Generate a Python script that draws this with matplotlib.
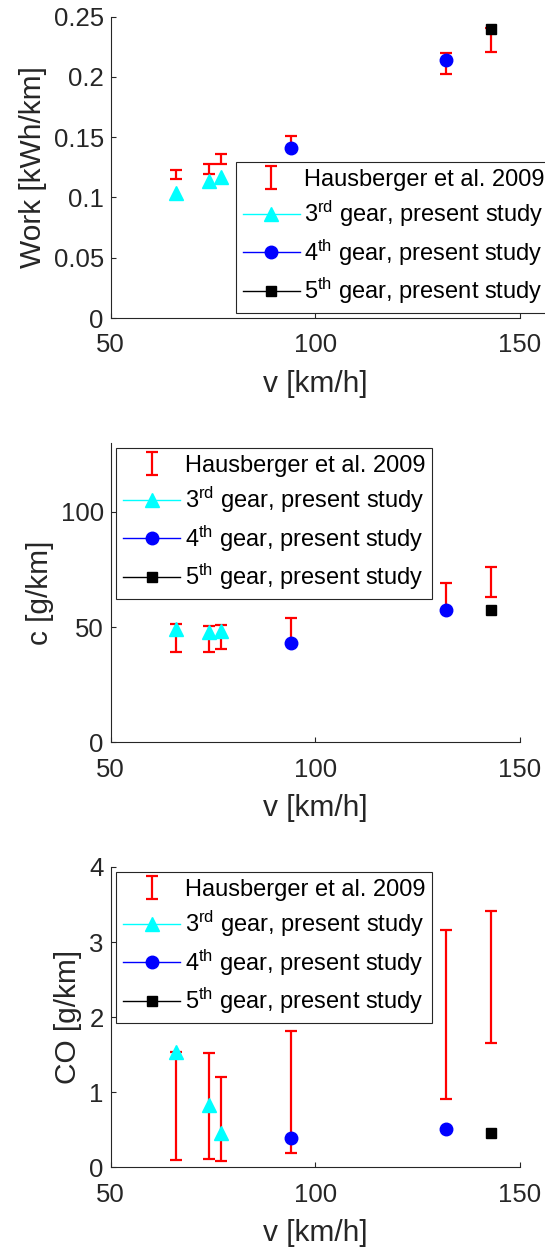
import matplotlib
matplotlib.use('Agg')
import matplotlib.pyplot as plt
from matplotlib.lines import Line2D
from matplotlib.container import ErrorbarContainer
from matplotlib.legend_handler import HandlerErrorbar
import numpy as np

plt.rcParams['font.family'] = ['Liberation Sans', 'DejaVu Sans']
plt.rcParams['mathtext.fontset'] = 'custom'
plt.rcParams['mathtext.rm'] = 'Liberation Sans'
plt.rcParams['mathtext.it'] = 'Liberation Sans:italic'

# speeds [km/h]
v_all = [66, 74, 77, 94, 132, 143]
v_g3 = [66, 74, 77]
v_g4 = [94, 132]
v_g5 = [143]

# Hausberger et al. 2009 ranges (low / high)
work_lo = [0.1154, 0.1193, 0.1276, 0.141, 0.2021, 0.2209]
work_hi = [0.1232, 0.1276, 0.1359, 0.1514, 0.2195, 0.2409]
c_lo = [39.3, 39.3, 40.7, 43.0, 57.2, 63.0]
c_hi = [51.4, 50.6, 51.0, 53.8, 69.0, 76.1]
co_lo = [0.098, 0.111, 0.089, 0.195, 0.915, 1.652]
co_hi = [1.53, 1.518, 1.203, 1.811, 3.157, 3.419]

# present study
work_g3 = [0.1038, 0.1135, 0.117]
work_g4 = [0.141, 0.2137]
work_g5 = [0.2395]
c_g3 = [49.1, 47.8, 48.1]
c_g4 = [42.9, 57.2]
c_g5 = [57.4]
co_g3 = [1.532, 0.830, 0.453]
co_g4 = [0.395, 0.515]
co_g5 = [0.462]

labels = ['Hausberger et al. 2009',
          '3$^{\\rm rd}$ gear, present study',
          '4$^{\\rm th}$ gear, present study',
          '5$^{\\rm th}$ gear, present study']

W, H = 545, 1247
fig = plt.figure(figsize=(W / 100, H / 100), dpi=100)
TXT = '#262626'


def add_ax(left, top, right, bottom):
    return fig.add_axes([left / W, 1 - bottom / H, (right - left) / W, (bottom - top) / H])


def panel(ax, lo, hi, g3, g4, g5, ylim, yticks, yticklabels, ylabel, leg_xy):
    lo = np.array(lo)
    hi = np.array(hi)
    mid = (lo + hi) / 2
    err = (hi - lo) / 2
    eb = ax.errorbar(v_all, mid, yerr=err, fmt='none', ecolor='red',
                     elinewidth=1.6, capsize=4.3, capthick=1.6, zorder=2)
    ax.plot(v_g3, g3, linestyle='none', marker='^', ms=10, color='cyan', zorder=3)
    ax.plot(v_g4, g4, linestyle='none', marker='o', ms=9, color='blue', zorder=3)
    ax.plot(v_g5, g5, linestyle='none', marker='s', ms=7, color='black', zorder=3)

    ax.set_xlim(50, 150)
    ax.set_ylim(*ylim)
    ax.set_xticks([50, 100, 150])
    ax.set_yticks(yticks)
    ax.set_yticklabels(yticklabels)
    for s in ['top', 'right']:
        ax.spines[s].set_visible(False)
    for s in ['left', 'bottom']:
        ax.spines[s].set_color(TXT)
        ax.spines[s].set_linewidth(0.8)
    ax.tick_params(direction='in', length=3.5, width=0.8, color=TXT,
                   labelsize=18.5, labelcolor=TXT)
    ax.tick_params(axis='x', pad=11)
    ax.tick_params(axis='y', pad=5)
    ax.set_xlabel('v [km/h]', fontsize=21.5, color=TXT, labelpad=9)
    ax.set_ylabel(ylabel, fontsize=21.5, color=TXT, labelpad=5)

    handles = [eb,
               Line2D([], [], color='cyan', lw=1, marker='^', ms=10),
               Line2D([], [], color='blue', lw=1, marker='o', ms=9),
               Line2D([], [], color='black', lw=1, marker='s', ms=7)]
    leg = ax.legend(handles, labels, loc='upper left',
                    bbox_to_anchor=(leg_xy[0] / W, 1 - leg_xy[1] / H),
                    bbox_transform=fig.transFigure, borderaxespad=0,
                    fontsize=17, frameon=True, fancybox=False, framealpha=1,
                    edgecolor=TXT, handlelength=2.4, handletextpad=0.2,
                    labelspacing=0.35, borderpad=0.3,
                    handler_map={ErrorbarContainer: HandlerErrorbar(yerr_size=0.5)})
    leg.get_frame().set_linewidth(0.8)
    return ax


ax1 = add_ax(110.7, 16.7, 520, 318)
panel(ax1, work_lo, work_hi, work_g3, work_g4, work_g5, (0, 0.25),
      [0, 0.05, 0.1, 0.15, 0.2, 0.25], ['0', '0.05', '0.1', '0.15', '0.2', '0.25'],
      'Work [kWh/km]', (236, 161.7))

ax2 = add_ax(110.7, 442.7, 520, 742.3)
panel(ax2, c_lo, c_hi, c_g3, c_g4, c_g5, (0, 130),
      [0, 50, 100], ['0', '50', '100'], 'c [g/km]', (116.4, 447.7))

ax3 = add_ax(110.7, 867, 520, 1167.3)
panel(ax3, co_lo, co_hi, co_g3, co_g4, co_g5, (0, 4),
      [0, 1, 2, 3, 4], ['0', '1', '2', '3', '4'], 'CO [g/km]', (116.4, 871.7))

fig.savefig('out.png', dpi=100)
